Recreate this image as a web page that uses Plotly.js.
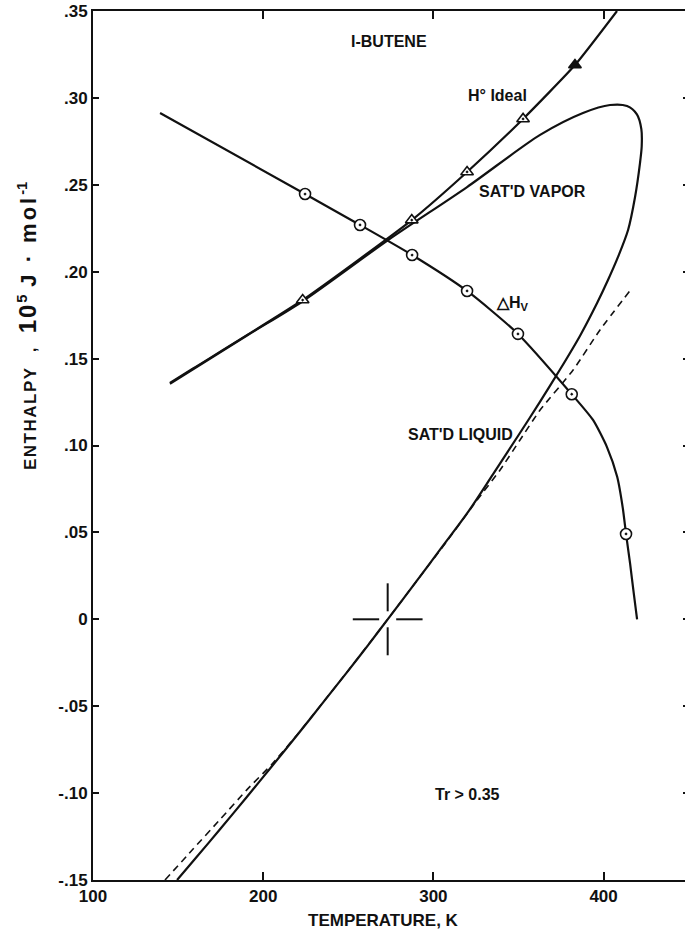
<!DOCTYPE html>
<html><head><meta charset="utf-8">
<script src="https://cdn.plot.ly/plotly-3.0.1.min.js"></script>
<style>html,body{margin:0;padding:0;overflow:hidden;background:#fff}#chart{width:689px;height:930px}</style>
</head><body><div id="chart"></div>
<script>
// ---- data (T in K, H in 1e5 J/mol) ----
const xTickVals = [100, 200, 300, 400];
const yTickVals = [-0.15, -0.10, -0.05, 0, 0.05, 0.10, 0.15, 0.20, 0.25, 0.30, 0.35];
const yTickText = ["-.15", "-.10", "-.05", "0", ".05", ".10", ".15", ".20", ".25", ".30", ".35"];

// Delta H vaporization curve
const dHvT = [139.4, 224.6, 256.9, 287.5, 319.8, 349.7, 381.3, 393.8, 402.0, 408.0, 411.3, 413.2, 415.6, 417.6, 419.7];
const dHvH = [0.2913, 0.2447, 0.2269, 0.2096, 0.1889, 0.1642, 0.1295, 0.1147, 0.0991, 0.0820, 0.0640, 0.0491, 0.0320, 0.0160, 0.0];
const dHvPtT = [224.6, 256.9, 287.5, 319.8, 349.7, 381.3, 413.2];
const dHvPtH = [0.2447, 0.2269, 0.2096, 0.1889, 0.1642, 0.1295, 0.0491];

// Ideal-gas enthalpy H°
const idealT = [145.2, 158.8, 223.2, 287.3, 319.8, 352.7, 383.2, 407.9];
const idealH = [0.136, 0.1443, 0.1837, 0.2297, 0.2574, 0.2879, 0.3189, 0.35];
const idealPtT = [223.2, 287.3, 319.8, 352.7];
const idealPtH = [0.1837, 0.2297, 0.2574, 0.2879];
const idealFilledT = [383.2];
const idealFilledH = [0.3189];

// Saturated vapor branch (low T -> critical region)
const vapT = [145.2, 190.0, 223.2, 273.4, 319.8, 362.7, 387.9, 403.8, 413.8, 419.6, 422.2];
const vapH = [0.1355, 0.1630, 0.1830, 0.2182, 0.2487, 0.2787, 0.2913, 0.2959, 0.2953, 0.2905, 0.2820];
// Saturated liquid branch (critical region -> low T)
const liqT = [422.4, 421.4, 418.5, 414.4, 408.5, 402.6, 396.2, 386.2, 374.4, 362.7, 350.0, 335.0, 320.0, 305.0, 290.0, 273.15, 262.0, 250.0, 235.0, 220.0, 205.0, 190.0, 175.0, 160.0, 149.4];
const liqH = [0.2720, 0.2625, 0.2430, 0.2240, 0.2085, 0.1952, 0.1820, 0.1632, 0.1437, 0.1252, 0.1059, 0.0834, 0.0612, 0.0415, 0.0218, 0.0, -0.0144, -0.0295, -0.0481, -0.0666, -0.0847, -0.1027, -0.1204, -0.1378, -0.1500];

// Dashed (estimated) liquid curve
const dashT = [142.3, 158.8, 175.0, 190.5, 205.0, 220.0, 235.0, 250.0, 273.15, 290.0, 308.0, 325.7, 339.2, 350.9, 362.7, 382.1, 397.9, 416.7];
const dashH = [-0.1500, -0.1322, -0.1148, -0.0980, -0.0835, -0.0664, -0.0480, -0.0295, 0.0, 0.0218, 0.0450, 0.0686, 0.0859, 0.1032, 0.1204, 0.1434, 0.1665, 0.1906];

// Reference state (273.15 K, H = 0)
const refT = [273.15];
const refH = [0];

const FONT = "Liberation Sans, Arial, Helvetica, sans-serif";
const INK = "#111";

const traces = [
  {x: dashT, y: dashH, mode: "lines", line: {color: INK, width: 1.6, dash: "7px,5px", shape: "spline", smoothing: 0.5}},
  {x: vapT.concat(liqT), y: vapH.concat(liqH), mode: "lines", line: {color: INK, width: 2.2, shape: "spline", smoothing: 0.8}},
  {x: idealT, y: idealH, mode: "lines", line: {color: INK, width: 2.2, shape: "spline", smoothing: 0.5}},
  {x: dHvT, y: dHvH, mode: "lines", line: {color: INK, width: 2.2, shape: "spline", smoothing: 0.6}},
  {x: dHvPtT, y: dHvPtH, mode: "markers", marker: {symbol: "circle-dot", size: 11, color: "#fff", line: {color: INK, width: 1.6}}},
  {x: idealPtT, y: idealPtH, mode: "markers", marker: {symbol: "triangle-up-dot", size: 11, color: "#fff", line: {color: INK, width: 1.6}}},
  {x: idealFilledT, y: idealFilledH, mode: "markers", marker: {symbol: "triangle-up", size: 11, color: INK, line: {color: INK, width: 1.6}}}
];

// crosshair at the reference state
const rt = refT[0], rh = refH[0];
const armT = 20.5, gapT = 5, armH = 0.0207, gapH = 0.0046;
const crossLine = {color: INK, width: 2};
const shapes = [
  {type: "line", xref: "x", yref: "y", x0: rt - armT, x1: rt - gapT, y0: rh, y1: rh, line: crossLine},
  {type: "line", xref: "x", yref: "y", x0: rt + gapT, x1: rt + armT, y0: rh, y1: rh, line: crossLine},
  {type: "line", xref: "x", yref: "y", x0: rt, x1: rt, y0: rh + gapH, y1: rh + armH, line: crossLine},
  {type: "line", xref: "x", yref: "y", x0: rt, x1: rt, y0: rh - armH, y1: rh - gapH, line: crossLine}
];

const lbl = (text, x, y, extra) => Object.assign({text: text, x: x, y: y, xref: "x", yref: "y", showarrow: false,
  xanchor: "center", yanchor: "middle", font: {family: FONT, size: 16, color: INK, weight: "bold"}}, extra || {});

const yTitle = '<span style="font-size:17px;letter-spacing:1.5px">ENTHALPY</span>' +
  '<span style="font-size:17px">   ,   </span>' +
  '<span style="font-size:24px;letter-spacing:2px">10</span><sup>5</sup>' +
  '<span style="font-size:14px">  </span>' +
  '<span style="font-size:22px;letter-spacing:3px">J · mol</span><sup>-1</sup>';

const annotations = [
  lbl("I-BUTENE", 274.0, 0.3322),
  lbl("H° Ideal", 337.4, 0.3011),
  lbl("SAT'D VAPOR", 358.0, 0.2459),
  lbl("△H<sub>V</sub>", 346.5, 0.1815),
  lbl("SAT'D LIQUID", 315.7, 0.1066),
  lbl("Tr &gt; 0.35", 319.8, -0.101),
  {text: "TEMPERATURE, K", xref: "paper", yref: "paper", x: 0.488, y: -0.047, showarrow: false,
   xanchor: "center", yanchor: "middle", font: {family: FONT, size: 17, color: INK, weight: "bold"}},
  {text: yTitle, xref: "paper", yref: "paper", x: -0.11, y: 0.638,
   textangle: -90, showarrow: false, xanchor: "center", yanchor: "middle",
   font: {family: FONT, size: 21, color: INK, weight: "bold"}}
];

const axisCommon = {
  showline: true, linecolor: INK, linewidth: 2, mirror: "allticks",
  ticks: "inside", tickcolor: INK, tickwidth: 2,
  showgrid: false, zeroline: false,
  tickfont: {family: FONT, size: 17, color: INK, weight: "bold"}
};

const layout = {
  width: 689, height: 930,
  margin: {l: 93, r: 0, t: 11, b: 50},
  paper_bgcolor: "#fff", plot_bgcolor: "#fff",
  showlegend: false,
  xaxis: Object.assign({}, axisCommon, {range: [100, 450.2], tickmode: "array", tickvals: xTickVals, ticklen: 8}),
  yaxis: Object.assign({}, axisCommon, {range: [-0.15, 0.35], tickmode: "array", tickvals: yTickVals, ticktext: yTickText, ticklen: 6}),
  shapes: shapes,
  annotations: annotations
};

Plotly.newPlot("chart", traces, layout, {staticPlot: true, displayModeBar: false});
</script></body></html>
